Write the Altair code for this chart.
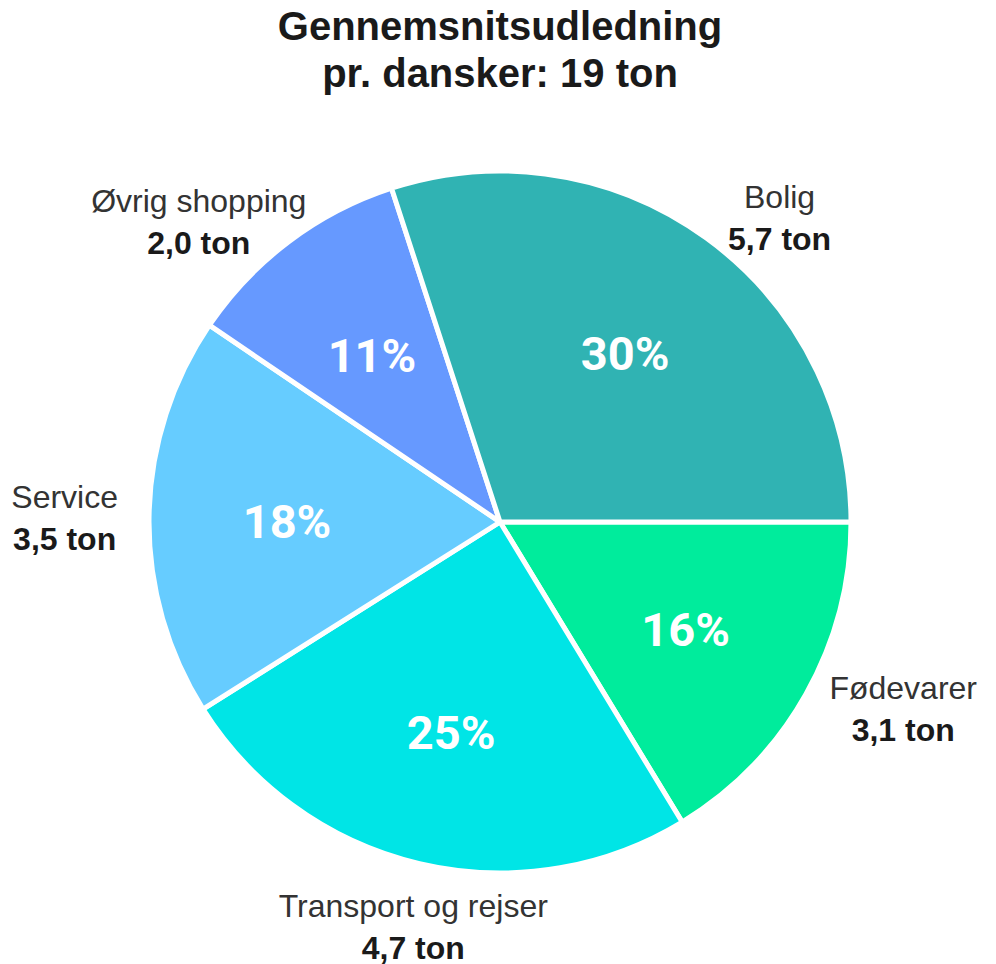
import altair as alt
import pandas as pd

# Data (clockwise from 3 o'clock)
categories = ["Fødevarer", "Transport og rejser", "Service", "Øvrig shopping", "Bolig"]
tons = [3.1, 4.7, 3.5, 2.0, 5.7]
ton_labels = ["3,1 ton", "4,7 ton", "3,5 ton", "2,0 ton", "5,7 ton"]
pct_labels = ["16%", "25%", "18%", "11%", "30%"]
colors = ["#00ec9c", "#00e5e6", "#66ccff", "#6699ff", "#30b3b3"]

df = pd.DataFrame({
    "cat": categories,
    "value": tons,
    "ton": ton_labels,
    "pct": pct_labels,
    "idx": list(range(len(categories))),
})

W, H = 976, 828
PI = 3.141592653589793

color_scale = alt.Scale(domain=categories, range=colors)

base = alt.Chart(df)

pie = base.mark_arc(outerRadius=351, stroke="white", strokeWidth=5).encode(
    theta=alt.Theta("value:Q", stack=True,
                    scale=alt.Scale(range=[PI / 2, PI / 2 + 2 * PI])),
    color=alt.Color("cat:N", scale=color_scale, legend=None),
    order=alt.Order("idx:Q"),
)

lab = base.transform_window(
    cum="sum(value)", sort=[alt.SortField("idx")], frame=[None, 0]
).transform_joinaggregate(
    total="sum(value)"
).transform_calculate(
    mid=f"((datum.cum - datum.value/2) / datum.total) * 2 * {PI} + {PI}/2"
).transform_calculate(
    s="sin(datum.mid)", c="cos(datum.mid)",
    hw="min(max(length(datum.cat), length(datum.ton)) * 8.2, 74)",
).transform_calculate(
    px="213 * datum.s", py="213 * datum.c",
    ax="378 * datum.s", ay="378 * datum.c",
).transform_calculate(
    lx="datum.s > 0.3 ? datum.ax + datum.hw : (datum.s < -0.3 ? datum.ax - datum.hw : datum.ax)",
    ly="abs(datum.s) > 0.3 ? datum.ay : (datum.c < 0 ? datum.ay - 35 : datum.ay + 35)",
)

xs = alt.Scale(domain=[-W / 2, W / 2], range=[0, W], nice=False, zero=False)
ys = alt.Scale(domain=[-H / 2, H / 2], range=[H, 0], nice=False, zero=False)

pct_text = lab.mark_text(font="Roboto", fontSize=47, fontWeight="bold",
                         color="white", align="center", baseline="middle", dy=6).encode(
    x=alt.X("px:Q", scale=xs, axis=None),
    y=alt.Y("py:Q", scale=ys, axis=None),
    text="pct:N",
)

name_text = lab.mark_text(font="Liberation Sans", fontSize=32, color="#333333",
                          align="center", baseline="middle", dy=-18).encode(
    x=alt.X("lx:Q", scale=xs, axis=None),
    y=alt.Y("ly:Q", scale=ys, axis=None),
    text="cat:N",
)

ton_text = lab.mark_text(font="Liberation Sans", fontSize=32, fontWeight="bold",
                         color="#1a1a1a", align="center", baseline="middle", dy=24).encode(
    x=alt.X("lx:Q", scale=xs, axis=None),
    y=alt.Y("ly:Q", scale=ys, axis=None),
    text="ton:N",
)

chart = alt.layer(pie, pct_text, name_text, ton_text).properties(
    width=W, height=H,
    title=alt.TitleParams(
        text=["Gennemsnitsudledning", "pr. dansker: 19 ton"],
        font="Liberation Sans", fontSize=40, fontWeight="bold", color="#1a1a1a",
        lineHeight=47, anchor="middle", offset=13,
    ),
    autosize=alt.AutoSizeParams(type="none"),
    padding={"left": 4, "top": 100, "right": 0, "bottom": 30},
).configure_view(stroke=None)

chart.save("out.html", embed_options={"renderer": "svg", "actions": False})
